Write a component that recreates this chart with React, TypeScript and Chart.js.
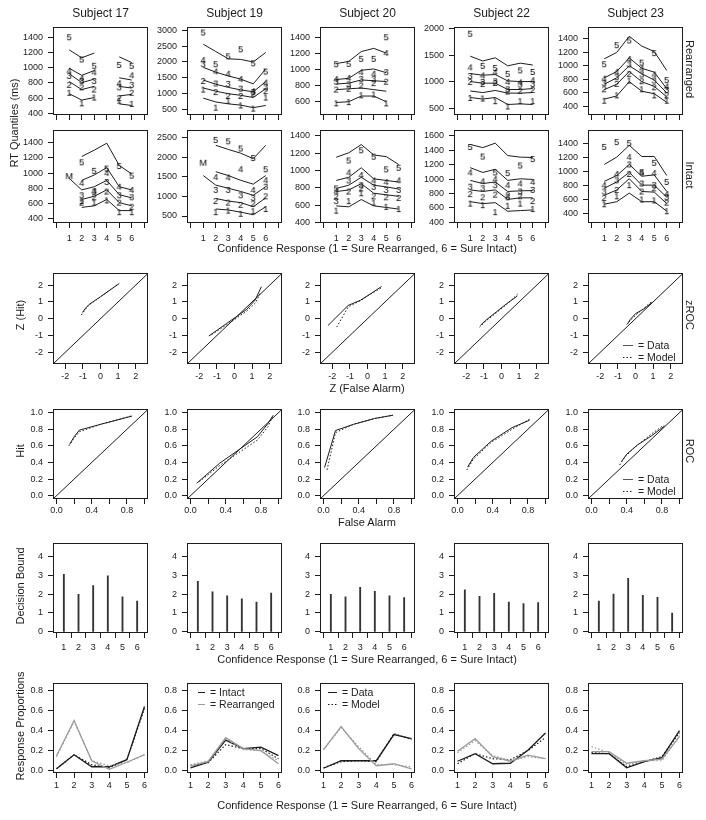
import React, { useEffect, useRef } from "react";
import { Chart, registerables } from "chart.js";

Chart.register(...registerables);

const FONT = '"Liberation Sans", Arial, Helvetica, sans-serif';
const INK = "#1c1c1c";
const GRAY = "#9b9b9b";

// ---------- categories / tick labels ----------
const subjects = ["Subject 17", "Subject 19", "Subject 20", "Subject 22", "Subject 23"];
const responses = [1, 2, 3, 4, 5, 6];
const rtXTicks = [0, 1, 2, 3, 4, 5, 6, 7];
const zTicks = [-2, -1, 0, 1, 2];
const rocTicks = [0, 0.2, 0.4, 0.6, 0.8, 1.0];
const rocLabelled = [0, 0.4, 0.8];
const boundTicks = [0, 1, 2, 3, 4];
const propTicks = [0, 0.2, 0.4, 0.6, 0.8];
const confidenceTitle = "Confidence Response (1 = Sure Rearranged, 6 = Sure Intact)";

const rearrYTicks = [
  [400, 600, 800, 1000, 1200, 1400],
  [500, 1000, 1500, 2000, 2500, 3000],
  [600, 800, 1000, 1200, 1400],
  [500, 1000, 1500, 2000],
  [400, 600, 800, 1000, 1200, 1400],
];
const rearrYRange = [[379, 1529], [329, 3090], [435, 1522], [381, 2018], [268, 1570]];
const intactYTicks = [
  [400, 600, 800, 1000, 1200, 1400],
  [500, 1000, 1500, 2000, 2500],
  [400, 600, 800, 1000, 1200, 1400],
  [400, 600, 800, 1000, 1200, 1400, 1600],
  [400, 600, 800, 1000, 1200, 1400],
];
const intactYRange = [[341, 1564], [322, 2677], [397, 1463], [391, 1675], [258, 1593]];

// ---------- RT quantiles: model lines (q1..q5) and data labels (q1..q5) ----------
const s17RearrModel = [
  [658, 575, 608, null, 525, 504],
  [817, 713, 755, null, 629, 650],
  [920, 804, 850, null, 754, 733],
  [992, 900, 962, null, 867, 838],
  [1233, 1130, 1192, null, 1142, 1067],
];
const s17RearrData = [
  [671, 533, 608, null, 567, 525],
  [775, 742, 713, null, 600, 671],
  [892, 825, 825, null, 742, 775],
  [960, 860, 940, null, 796, 900],
  [1400, 1108, 1025, null, 1037, 1025],
];
const s19RearrModel = [
  [860, 740, 680, 640, 560, 630],
  [1180, 1080, 1000, 950, 880, 1160],
  [1430, 1300, 1200, 1120, 1060, 1380],
  [1830, 1680, 1560, 1460, 1310, 1780],
  [2560, 2330, 2100, 2080, 2000, 2300],
];
const s19RearrData = [
  [1130, 560, 780, 630, 530, 880],
  [1400, 1050, 930, 930, 1000, 1080],
  [1930, 1320, 1310, 1160, 1050, 1200],
  [2060, 1700, 1630, 1460, 1080, 1350],
  [2930, 1930, 2180, 2400, 1960, 1700],
];
const s20RearrModel = [
  [590, 600, 670, 670, 600, null],
  [750, 760, 770, 750, 730, null],
  [820, 830, 870, 860, 850, null],
  [875, 890, 990, 1006, 960, null],
  [1073, 1100, 1222, 1262, 1203, null],
];
const s20RearrData = [
  [580, 595, 680, 690, 580, null],
  [750, 760, 800, 830, 848, null],
  [848, 815, 880, 880, 966, null],
  [880, 895, 966, 947, 1203, null],
  [1065, 1070, 1132, 1132, 1400, null],
];
const s22RearrModel = [
  [708, 679, 708, 577, 589, 577],
  [830, 800, 840, 790, 790, 800],
  [1006, 976, 976, 857, 857, 875],
  [1155, 1125, 1137, 1018, 1006, 1006],
  [1480, 1390, 1450, 1300, 1350, 1315],
];
const s22RearrData = [
  [700, 690, 640, 540, 640, 640],
  [1000, 960, 980, 820, 830, 850],
  [1110, 1000, 1010, 860, 950, 960],
  [1270, 1120, 1180, 1000, 990, 1030],
  [1900, 1300, 1260, 1150, 1215, 1185],
];
const s23RearrModel = [
  [504, 551, 763, 622, 584, 457],
  [645, 726, 914, 763, 693, 537],
  [726, 820, 1000, 881, 787, 598],
  [820, 914, 1117, 962, 905, 660],
  [1103, 1198, 1438, 1292, 1212, 929],
];
const s23RearrData = [
  [480, 560, 780, 650, 560, 480],
  [650, 730, 880, 770, 680, 560],
  [740, 830, 1020, 870, 780, 640],
  [810, 910, 1100, 960, 870, 690],
  [1023, 1306, 1377, 1047, 1188, 787],
];

const s17IntactModel = [
  [null, 547, 568, 652, 505, 505],
  [null, 652, 694, 778, 610, 568],
  [930, 778, 820, 904, 715, 673],
  [null, 904, 975, 1072, 820, 778],
  [null, 1219, 1303, 1395, 1101, 988],
];
const s17IntactData = [
  [null, 631, 610, 640, 484, 484],
  [null, 610, 681, 757, 610, 555],
  [null, 707, 757, 883, 707, 681],
  [null, 870, 765, 1000, 820, 778],
  [null, 1143, 1030, 1060, 1093, 967],
];
const s19IntactModel = [
  [null, 678, 654, 597, 532, 735],
  [null, 945, 881, 840, 735, 962],
  [1529, 1286, 1205, 1124, 1027, 1245],
  [null, 1626, 1529, 1407, 1310, 1529],
  [null, 2298, 2193, 2096, 1958, 2298],
];
const s19IntactData = [
  [null, 597, 638, 557, 621, 678],
  [null, 881, 840, 783, 816, 1002],
  [null, 1164, 1164, 1027, 962, 1245],
  [null, 1490, 1480, 1690, 1160, 1410],
  [null, 2436, 2400, 2217, 1974, 1690],
];
const s20IntactModel = [
  [594, 583, 667, 594, 576, 557],
  [759, 777, 850, 740, 722, 704],
  [795, 832, 923, 832, 813, 788],
  [887, 923, 1033, 905, 887, 868],
  [1154, 1205, 1300, 1180, 1161, 1070],
];
const s20IntactData = [
  [539, 649, 740, 631, 583, 557],
  [700, 759, 795, 704, 693, 686],
  [649, 887, 832, 813, 777, 777],
  [759, 978, 949, 887, 868, 887],
  [795, 1117, 1235, 1161, 1015, 1033],
];
const s22IntactModel = [
  [687, 660, 673, 554, 563, 572],
  [850, 828, 850, 718, 740, 740],
  [982, 938, 960, 828, 837, 841],
  [1158, 1092, 1136, 982, 1004, 995],
  [1480, 1436, 1498, 1326, 1304, 1300],
];
const s22IntactData = [
  [660, 638, 541, 629, 660, 585],
  [792, 748, 784, 775, 762, 695],
  [894, 872, 916, 748, 828, 850],
  [1092, 969, 1000, 916, 938, 960],
  [1445, 1313, 1092, 1083, 1189, 1278],
];
const s23IntactModel = [
  [529, 565, 689, 565, 565, 428],
  [657, 735, 896, 712, 703, 538],
  [758, 850, 988, 804, 804, 630],
  [859, 942, 1102, 932, 951, 712],
  [1102, 1208, 1378, 1217, 1217, 942],
];
const s23IntactData = [
  [529, 643, 804, 597, 584, 428],
  [620, 735, 965, 712, 758, 551],
  [712, 873, 1102, 827, 804, 630],
  [804, 965, 1208, 988, 978, 675],
  [1355, 1424, 1410, 988, 1125, 850],
];
const intactMedianAt1 = [960, 1853, null, null, null];

const rearrModels = [s17RearrModel, s19RearrModel, s20RearrModel, s22RearrModel, s23RearrModel];
const rearrData = [s17RearrData, s19RearrData, s20RearrData, s22RearrData, s23RearrData];
const intactModels = [s17IntactModel, s19IntactModel, s20IntactModel, s22IntactModel, s23IntactModel];
const intactData = [s17IntactData, s19IntactData, s20IntactData, s22IntactData, s23IntactData];

// ---------- zROC ----------
const zDataFA = [
  [-1.03, -0.85, -0.65, 0.0, 1.07],
  [-1.46, -0.44, 0.7, 1.18, 1.53],
  [-2.25, -1.1, -0.4, 0.2, 0.8],
  [-1.2, -0.9, -0.3, 0.3, 0.9],
  [-0.45, -0.3, 0.0, 0.5, 0.95],
];
const zDataHit = [
  [0.37, 0.62, 0.85, 1.31, 2.1],
  [-1.03, -0.28, 0.56, 1.12, 1.91],
  [-0.41, 0.79, 1.1, 1.5, 1.92],
  [-0.4, -0.1, 0.4, 0.9, 1.35],
  [-0.3, -0.05, 0.3, 0.6, 0.97],
];
const zModelFA = [
  [-1.09, -0.9, -0.65, 0.0, 1.02],
  [-1.3, -0.4, 0.7, 1.2, 1.5],
  [-1.75, -1.1, -0.4, 0.2, 0.8],
  [-1.25, -0.9, -0.3, 0.3, 0.95],
  [-0.5, -0.3, 0.0, 0.5, 0.9],
];
const zModelHit = [
  [0.22, 0.5, 0.82, 1.3, 2.08],
  [-0.95, -0.33, 0.45, 0.95, 1.6],
  [-0.5, 0.7, 1.08, 1.48, 1.85],
  [-0.5, -0.15, 0.35, 0.85, 1.5],
  [-0.35, -0.1, 0.2, 0.65, 1.0],
];
const zDiagonal = [-2.7, 2.7];

// ---------- ROC ----------
const rocDataFA = [
  [0.15, 0.2, 0.26, 0.5, 0.86],
  [0.07, 0.33, 0.76, 0.88, 0.94],
  [0.012, 0.136, 0.34, 0.58, 0.79],
  [0.115, 0.18, 0.38, 0.62, 0.82],
  [0.34, 0.4, 0.52, 0.68, 0.83],
];
const rocDataHit = [
  [0.62, 0.71, 0.79, 0.86, 0.96],
  [0.15, 0.39, 0.71, 0.87, 0.97],
  [0.34, 0.785, 0.86, 0.93, 0.97],
  [0.345, 0.46, 0.655, 0.82, 0.91],
  [0.41, 0.5, 0.61, 0.72, 0.84],
];
const rocModelFA = [
  [0.14, 0.19, 0.26, 0.5, 0.85],
  [0.1, 0.34, 0.76, 0.88, 0.93],
  [0.04, 0.136, 0.34, 0.58, 0.79],
  [0.106, 0.18, 0.38, 0.62, 0.83],
  [0.32, 0.38, 0.5, 0.69, 0.82],
];
const rocModelHit = [
  [0.6, 0.68, 0.77, 0.86, 0.96],
  [0.17, 0.37, 0.67, 0.83, 0.95],
  [0.31, 0.76, 0.86, 0.93, 0.97],
  [0.31, 0.44, 0.64, 0.8, 0.93],
  [0.37, 0.47, 0.59, 0.75, 0.85],
];
const rocDiagonal = [-0.04, 1.04];

// ---------- decision bounds ----------
const bounds = [
  [3.05, 1.98, 2.45, 2.97, 1.85, 1.63],
  [2.68, 2.12, 1.9, 1.75, 1.58, 2.05],
  [1.99, 1.85, 2.35, 2.14, 1.9, 1.82],
  [2.22, 1.88, 2.04, 1.58, 1.5, 1.55],
  [1.63, 2.0, 2.83, 1.93, 1.83, 1.0],
];

// ---------- response proportions ----------
const propIntact = [
  [0.02, 0.16, 0.04, 0.04, 0.11, 0.64],
  [0.03, 0.085, 0.305, 0.22, 0.235, 0.15],
  [0.025, 0.1, 0.1, 0.1, 0.36, 0.32],
  [0.095, 0.17, 0.07, 0.075, 0.205, 0.375],
  [0.17, 0.17, 0.03, 0.09, 0.13, 0.4],
];
const propIntactModel = [
  [0.02, 0.16, 0.06, 0.03, 0.11, 0.62],
  [0.05, 0.08, 0.26, 0.22, 0.22, 0.12],
  [0.03, 0.09, 0.1, 0.09, 0.37, 0.31],
  [0.07, 0.17, 0.12, 0.11, 0.2, 0.33],
  [0.18, 0.17, 0.04, 0.09, 0.14, 0.38],
];
const propRearr = [
  [0.15, 0.5, 0.1, 0.015, 0.085, 0.16],
  [0.05, 0.09, 0.33, 0.22, 0.2, 0.07],
  [0.21, 0.44, 0.22, 0.05, 0.07, 0.02],
  [0.195, 0.32, 0.14, 0.095, 0.155, 0.12],
  [0.19, 0.19, 0.075, 0.1, 0.115, 0.34],
];
const propRearrModel = [
  [0.14, 0.49, 0.1, 0.05, 0.08, 0.16],
  [0.06, 0.1, 0.32, 0.21, 0.2, 0.1],
  [0.21, 0.43, 0.24, 0.06, 0.06, 0.04],
  [0.18, 0.3, 0.15, 0.1, 0.14, 0.12],
  [0.24, 0.18, 0.06, 0.1, 0.1, 0.35],
];

// ---------- helpers ----------
type Pt = { x: number; y: number | null };
const pts = (xs: number[], ys: (number | null)[]): Pt[] => xs.map((x, i) => ({ x, y: ys[i] }));

const glyphCache: Record<string, HTMLCanvasElement> = {};
function glyph(ch: string): HTMLCanvasElement {
  if (glyphCache[ch]) return glyphCache[ch];
  const c = document.createElement("canvas");
  c.width = 12;
  c.height = 12;
  const g = c.getContext("2d")!;
  g.font = `9.5px ${FONT}`;
  g.fillStyle = "#000";
  g.textAlign = "center";
  g.textBaseline = "middle";
  g.fillText(ch, 6, 6.5);
  glyphCache[ch] = c;
  return c;
}

const DOT = [1.5, 2];

function lineDs(data: Pt[], color = INK, dash: number[] = [], width = 1) {
  return { data, showLine: true, borderColor: color, borderWidth: width, borderDash: dash, pointRadius: 0, spanGaps: false };
}

function rtDatasets(model: (number | null)[][], data: (number | null)[][], median: number | null) {
  const ds: any[] = model.map((row) => lineDs(pts(responses, row)));
  data.forEach((row, q) => {
    ds.push({
      data: pts(responses, row).filter((p) => p.y !== null),
      showLine: false,
      pointStyle: glyph(String(q + 1)),
      pointRadius: 4,
    });
  });
  if (median !== null) {
    ds.push({ data: [{ x: 1, y: median }], showLine: false, pointStyle: glyph("M"), pointRadius: 4 });
  }
  return ds;
}

type LegendItem = { x: number; y: number; len: number; text: string; color: string; dash?: number[] };

const framePlugin = {
  id: "frame",
  afterDatasetsDraw(chart: any, _args: any, opts: any) {
    const { ctx, chartArea: a } = chart;
    ctx.save();
    ctx.setLineDash([]);
    ctx.strokeStyle = INK;
    ctx.lineWidth = 1;
    const l = Math.round(a.left) + 0.5;
    const t = Math.round(a.top) + 0.5;
    const r = Math.round(a.right) - 0.5;
    const b = Math.round(a.bottom) - 0.5;
    ctx.strokeRect(l, t, r - l, b - t);
    const items: LegendItem[] = (opts && opts.items) || [];
    ctx.font = `10.5px ${FONT}`;
    ctx.textBaseline = "middle";
    for (const it of items) {
      const y = Math.round(a.top + it.y) + 0.5;
      ctx.beginPath();
      ctx.strokeStyle = it.color;
      ctx.setLineDash(it.dash || []);
      ctx.moveTo(a.left + it.x, y);
      ctx.lineTo(a.left + it.x + it.len, y);
      ctx.stroke();
      ctx.setLineDash([]);
      ctx.fillStyle = INK;
      ctx.fillText(it.text, a.left + it.x + it.len + 5, y + 0.5);
    }
    ctx.restore();
  },
};

const PAD_L = 50;
const PAD_R = 6;
const PAD_T = 6;
const PAD_B = 30;

type PanelProps = {
  left: number;
  top: number;
  w: number;
  h: number;
  xRange: number[];
  xTicks: number[];
  xLabel: (v: number) => string;
  xPad: number;
  yRange: number[];
  yTicks: number[];
  yLabel: (v: number) => string;
  datasets: any[];
  legend?: LegendItem[];
};

function Panel(p: PanelProps) {
  const ref = useRef<HTMLCanvasElement>(null);
  useEffect(() => {
    const tickFont = { family: FONT, size: 9 };
    const chart = new Chart(ref.current!, {
      type: "scatter",
      data: { datasets: p.datasets },
      options: {
        animation: false,
        responsive: false,
        events: [],
        layout: { padding: { left: 0, right: PAD_R, top: PAD_T, bottom: 0 } },
        plugins: {
          legend: { display: false },
          tooltip: { enabled: false },
          frame: { items: p.legend || [] },
        } as any,
        scales: {
          x: {
            type: "linear",
            bounds: "data",
            min: p.xRange[0],
            max: p.xRange[1],
            afterBuildTicks: (s: any) => {
              s.ticks = p.xTicks.map((v) => ({ value: v }));
            },
            afterFit: (s: any) => {
              s.height = PAD_B;
            },
            grid: { display: true, drawOnChartArea: false, drawTicks: true, tickLength: 5, color: INK, tickColor: INK, lineWidth: 1 },
            border: { display: false },
            ticks: {
              autoSkip: false,
              maxRotation: 0,
              minRotation: 0,
              padding: p.xPad,
              color: INK,
              font: tickFont,
              callback: (v: any) => p.xLabel(Number(v)),
            },
          },
          y: {
            type: "linear",
            bounds: "data",
            min: p.yRange[0],
            max: p.yRange[1],
            afterBuildTicks: (s: any) => {
              s.ticks = p.yTicks.map((v) => ({ value: v }));
            },
            afterFit: (s: any) => {
              s.width = PAD_L;
            },
            grid: { display: true, drawOnChartArea: false, drawTicks: true, tickLength: 5, color: INK, tickColor: INK, lineWidth: 1 },
            border: { display: false },
            ticks: {
              autoSkip: false,
              padding: 5,
              color: INK,
              font: tickFont,
              callback: (v: any) => p.yLabel(Number(v)),
            },
          },
        },
      } as any,
      plugins: [framePlugin as any],
    });
    return () => chart.destroy();
  }, []);
  const cw = PAD_L + p.w + PAD_R;
  const ch = PAD_T + p.h + PAD_B;
  return (
    <canvas
      ref={ref}
      width={cw}
      height={ch}
      style={{ position: "absolute", left: p.left - PAD_L, top: p.top - PAD_T, width: cw, height: ch }}
    />
  );
}

function Text(props: { x: number; y: number; text: string; size?: number; rotate?: number }) {
  const { x, y, text, size = 11, rotate = 0 } = props;
  return (
    <div
      style={{
        position: "absolute",
        left: x,
        top: y,
        transform: `translate(-50%, -50%) rotate(${rotate}deg)`,
        fontSize: size,
        lineHeight: 1,
        whiteSpace: "nowrap",
        color: INK,
        fontFamily: FONT,
      }}
    >
      {text}
    </div>
  );
}

const rtXLabel = (v: number) => (v >= 1 && v <= 6 ? String(v) : "");
const noLabel = () => "";
const intLabel = (v: number) => String(v);
const oneDec = (v: number) => v.toFixed(1);
const rocXLabel = (v: number) => (rocLabelled.some((r) => Math.abs(r - v) < 1e-9) ? v.toFixed(1) : "");

export default function App() {
  const colLeft = [53, 187, 320, 454, 588];
  const W = 95;
  const R1 = { top: 23, h: 92 };
  const R2 = { top: 126, h: 97 };
  const R3 = { top: 269, h: 95 };
  const R4 = { top: 405, h: 94 };
  const R5 = { top: 539, h: 94 };
  const R6 = { top: 679, h: 94 };

  const panels: PanelProps[] = [];
  for (let c = 0; c < 5; c++) {
    const left = colLeft[c];
    panels.push({
      left, top: R1.top, w: W, h: R1.h,
      xRange: [-0.3, 7.3], xTicks: rtXTicks, xLabel: noLabel, xPad: 4,
      yRange: rearrYRange[c], yTicks: rearrYTicks[c], yLabel: intLabel,
      datasets: rtDatasets(rearrModels[c], rearrData[c], null),
    });
    panels.push({
      left, top: R2.top, w: W, h: R2.h,
      xRange: [-0.3, 7.3], xTicks: rtXTicks, xLabel: rtXLabel, xPad: 5,
      yRange: intactYRange[c], yTicks: intactYTicks[c], yLabel: intLabel,
      datasets: rtDatasets(intactModels[c], intactData[c], intactMedianAt1[c]),
    });
    panels.push({
      left, top: R3.top, w: W, h: R3.h,
      xRange: [-2.7, 2.7], xTicks: zTicks, xLabel: intLabel, xPad: 2,
      yRange: [-2.7, 2.7], yTicks: zTicks, yLabel: intLabel,
      datasets: [
        lineDs(pts(zDiagonal, zDiagonal)),
        lineDs(pts(zDataFA[c], zDataHit[c])),
        lineDs(pts(zModelFA[c], zModelHit[c]), INK, DOT),
      ],
      legend:
        c === 4
          ? [
              { x: 35, y: 72, len: 10, text: "= Data", color: "#555" },
              { x: 35, y: 84, len: 10, text: "= Model", color: INK, dash: DOT },
            ]
          : undefined,
    });
    panels.push({
      left, top: R4.top, w: W, h: R4.h,
      xRange: [-0.04, 1.04], xTicks: rocTicks, xLabel: rocXLabel, xPad: 1,
      yRange: [-0.04, 1.04], yTicks: rocTicks, yLabel: oneDec,
      datasets: [
        lineDs(pts(rocDiagonal, rocDiagonal)),
        lineDs(pts(rocDataFA[c], rocDataHit[c])),
        lineDs(pts(rocModelFA[c], rocModelHit[c]), INK, DOT),
      ],
      legend:
        c === 4
          ? [
              { x: 35, y: 70, len: 10, text: "= Data", color: "#555" },
              { x: 35, y: 82, len: 10, text: "= Model", color: INK, dash: DOT },
            ]
          : undefined,
    });
    panels.push({
      left, top: R5.top, w: W, h: R5.h,
      xRange: [0.8, 6.2], xTicks: responses, xLabel: intLabel, xPad: 4,
      yRange: [-0.06, 4.68], yTicks: boundTicks, yLabel: intLabel,
      datasets: [
        {
          type: "bar",
          data: pts(responses, bounds[c]),
          backgroundColor: "#333",
          borderWidth: 0,
          barThickness: 1.2,
        },
      ],
    });
    const legend6: LegendItem[] | undefined =
      c === 1
        ? [
            { x: 11, y: 8.5, len: 7, text: "= Intact", color: INK },
            { x: 11, y: 21, len: 7, text: "= Rearranged", color: GRAY },
          ]
        : c === 2
        ? [
            { x: 8, y: 8.5, len: 9, text: "= Data", color: INK },
            { x: 8, y: 21, len: 9, text: "= Model", color: INK, dash: DOT },
          ]
        : undefined;
    panels.push({
      left, top: R6.top, w: W, h: R6.h,
      xRange: [0.8, 6.2], xTicks: responses, xLabel: intLabel, xPad: 2,
      yRange: [-0.022, 0.869], yTicks: propTicks, yLabel: oneDec,
      datasets: [
        lineDs(pts(responses, propRearrModel[c]), GRAY, DOT, 1.2),
        lineDs(pts(responses, propRearr[c]), GRAY, [], 1.3),
        lineDs(pts(responses, propIntactModel[c]), INK, DOT, 1.2),
        lineDs(pts(responses, propIntact[c]), INK, [], 1.3),
      ],
      legend: legend6,
    });
  }

  const centers = colLeft.map((l) => l + W / 2);

  return (
    <div
      style={{
        position: "absolute",
        left: 0,
        top: 0,
        width: 706,
        height: 820,
        background: "#fff",
        fontFamily: FONT,
        overflow: "hidden",
      }}
    >
      {panels.map((p, i) => (
        <Panel key={i} {...p} />
      ))}
      {subjects.map((s, i) => (
        <Text key={s} x={centers[i]} y={13} text={s} size={12} />
      ))}
      <Text x={14} y={123} text="RT Quantiles (ms)" rotate={-90} />
      <Text x={20} y={315} text="Z (Hit)" rotate={-90} />
      <Text x={20} y={451} text="Hit" rotate={-90} />
      <Text x={20} y={586} text="Decision Bound" rotate={-90} />
      <Text x={20} y={726} text="Response Proportions" rotate={-90} />
      <Text x={689} y={69} text="Rearranged" rotate={90} />
      <Text x={689} y={175} text="Intact" rotate={90} />
      <Text x={689} y={315} text="zROC" rotate={90} />
      <Text x={689} y={451} text="ROC" rotate={90} />
      <Text x={367} y={248} text={confidenceTitle} />
      <Text x={367} y={388} text="Z (False Alarm)" />
      <Text x={367} y={522} text="False Alarm" />
      <Text x={367} y={659} text={confidenceTitle} />
      <Text x={367} y={805} text={confidenceTitle} />
    </div>
  );
}
